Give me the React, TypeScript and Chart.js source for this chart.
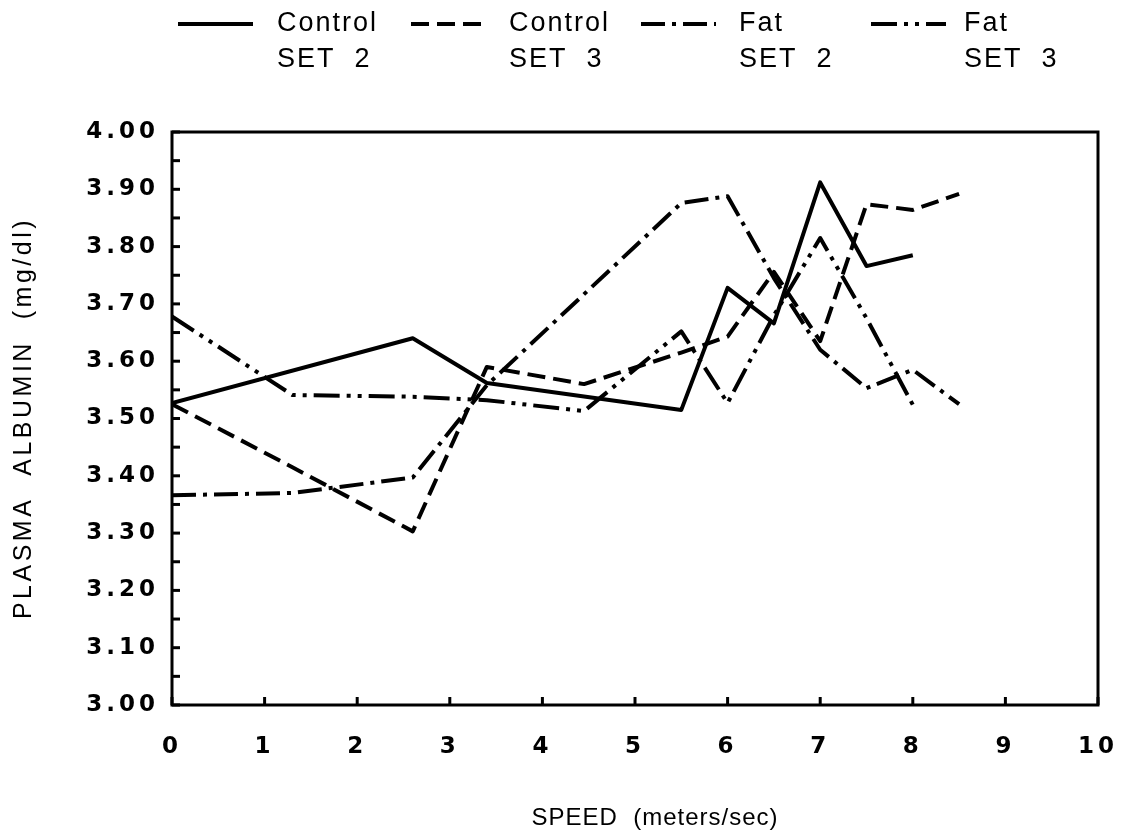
import React, { useEffect, useRef } from "react";
import { Chart, registerables } from "chart.js";

Chart.register(...registerables);

// ---------- data ----------
const seriesNames = ["Control SET 2", "Control SET 3", "Fat SET 2", "Fat SET 3"];
const legendLine1 = ["Control", "Control", "Fat", "Fat"];
const legendLine2 = ["SET  2", "SET  3", "SET  2", "SET  3"];

const control2Speed = [0, 2.6, 3.4, 5.5, 6.0, 6.5, 7.0, 7.5, 8.0];
const control2Albumin = [3.527, 3.64, 3.562, 3.515, 3.728, 3.666, 3.912, 3.766, 3.785];

const control3Speed = [0, 1.3, 2.6, 3.4, 4.45, 5.5, 6.0, 6.5, 7.0, 7.5, 8.0, 8.5];
const control3Albumin = [3.525, 3.415, 3.303, 3.59, 3.56, 3.615, 3.643, 3.756, 3.635, 3.874, 3.864, 3.892];

const fat2Speed = [0, 1.3, 2.6, 3.4, 4.45, 5.5, 6.0, 6.5, 7.0, 7.5, 8.0, 8.5];
const fat2Albumin = [3.366, 3.37, 3.397, 3.558, 3.717, 3.876, 3.888, 3.745, 3.62, 3.553, 3.585, 3.525];

const fat3Speed = [0, 1.3, 2.6, 3.4, 4.45, 5.5, 6.0, 6.5, 7.0, 7.5, 8.0];
const fat3Albumin = [3.678, 3.541, 3.538, 3.532, 3.513, 3.652, 3.527, 3.68, 3.815, 3.675, 3.524];

const xMin = 0;
const xMax = 10;
const xStep = 1;
const yMin = 3.0;
const yMax = 4.0;
const yMinorStep = 0.05;

const xAxisTitle = "SPEED  (meters/sec)";
const yAxisTitle = "PLASMA  ALBUMIN  (mg/dl)";

// ---------- styles ----------
const dashPatterns: number[][] = [[], [18, 8], [24, 7, 4, 7], [26, 7, 4, 7, 4, 7]];
const LINE_WIDTH = 4;
const TICK_SPACING = "4px";

const toPoints = (xs: number[], ys: number[]) => xs.map((x, i) => ({ x, y: ys[i] }));

const seriesData = [
  toPoints(control2Speed, control2Albumin),
  toPoints(control3Speed, control3Albumin),
  toPoints(fat2Speed, fat2Albumin),
  toPoints(fat3Speed, fat3Albumin),
];

const decorPlugin = {
  id: "decor",
  beforeUpdate(chart: any) {
    chart.ctx.letterSpacing = TICK_SPACING;
  },
  beforeDraw(chart: any) {
    const ctx = chart.ctx;
    ctx.save();
    ctx.fillStyle = "#ffffff";
    ctx.fillRect(0, 0, chart.width, chart.height);
    ctx.restore();
    ctx.letterSpacing = TICK_SPACING;
  },
  beforeDatasetsDraw(chart: any) {
    chart.ctx.letterSpacing = "0px";
  },
  afterDraw(chart: any) {
    const ctx = chart.ctx;
    const { left, right, top, bottom } = chart.chartArea;
    const xs = chart.scales.x;
    const ys = chart.scales.y;
    ctx.save();
    ctx.letterSpacing = "0px";
    ctx.strokeStyle = "#000";
    ctx.setLineDash([]);
    // frame
    ctx.lineWidth = 3;
    ctx.strokeRect(left, top, right - left, bottom - top);
    // inward ticks
    ys.ticks.forEach((t: any) => {
      const py = ys.getPixelForValue(t.value);
      ctx.beginPath();
      ctx.moveTo(left, py);
      ctx.lineTo(left + 8, py);
      ctx.stroke();
    });
    xs.ticks.forEach((t: any) => {
      const px = xs.getPixelForValue(t.value);
      ctx.beginPath();
      ctx.moveTo(px, bottom);
      ctx.lineTo(px, bottom - 8);
      ctx.stroke();
    });

    // axis titles
    ctx.fillStyle = "#000";
    ctx.font = "24px 'Liberation Sans'";
    ctx.letterSpacing = "1px";
    ctx.textAlign = "center";
    ctx.textBaseline = "middle";
    ctx.fillText(xAxisTitle, 655, 818);

    ctx.save();
    ctx.translate(24, 418);
    ctx.rotate(-Math.PI / 2);
    ctx.font = "25px 'Liberation Sans'";
    ctx.letterSpacing = "3.5px";
    ctx.fillText(yAxisTitle, 0, 0);
    ctx.restore();

    // legend
    const sampleX = [178, 411, 641, 871];
    const textX = [277, 509, 739, 964];
    const sampleW = 75;
    chart.data.datasets.forEach((ds: any, i: number) => {
      ctx.save();
      ctx.strokeStyle = "#000";
      ctx.lineWidth = LINE_WIDTH;
      ctx.lineCap = "butt";
      ctx.setLineDash(ds.borderDash || []);
      ctx.beginPath();
      ctx.moveTo(sampleX[i], 24);
      ctx.lineTo(sampleX[i] + sampleW, 24);
      ctx.stroke();
      ctx.restore();
      ctx.font = "27px 'Liberation Sans'";
      ctx.letterSpacing = "2px";
      ctx.textAlign = "left";
      ctx.textBaseline = "middle";
      ctx.fillText(legendLine1[i], textX[i], 24);
      ctx.fillText(legendLine2[i], textX[i], 60);
    });
    ctx.restore();
  },
};

export default function App() {
  const canvasRef = useRef<HTMLCanvasElement | null>(null);

  useEffect(() => {
    document.body.style.margin = "0";
    const canvas = canvasRef.current;
    if (!canvas) return;
    const chart = new Chart(canvas, {
      type: "line",
      data: {
        datasets: seriesData.map((d, i) => ({
          label: seriesNames[i],
          data: d,
          borderColor: "#000",
          backgroundColor: "#000",
          borderWidth: LINE_WIDTH,
          borderDash: dashPatterns[i],
          borderCapStyle: "butt",
          borderJoinStyle: "round",
          pointRadius: 0,
          tension: 0,
          fill: false,
        })),
      },
      options: {
        animation: false,
        responsive: false,
        devicePixelRatio: 1,
        layout: { padding: { top: 132, right: 31, left: 0, bottom: 0 } },
        plugins: {
          legend: { display: false },
          tooltip: { enabled: false },
          title: { display: false },
        },
        scales: {
          x: {
            type: "linear",
            min: xMin,
            max: xMax,
            grid: { display: false, drawTicks: false },
            border: { display: false },
            ticks: {
              stepSize: xStep,
              autoSkip: false,
              maxRotation: 0,
              padding: 28,
              color: "#000",
              font: { family: "'DejaVu Sans'", size: 23, weight: "bold" },
            },
            afterFit: (s: any) => {
              s.height = 127;
              s.paddingLeft = 0;
              s.paddingRight = 0;
            },
          },
          y: {
            type: "linear",
            min: yMin,
            max: yMax,
            grid: { display: false, drawTicks: false },
            border: { display: false },
            ticks: {
              stepSize: yMinorStep,
              autoSkip: false,
              padding: 13,
              color: "#000",
              font: { family: "'DejaVu Sans'", size: 23, weight: "bold" },
              callback: (v: any) => {
                const n = Number(v);
                return Math.round(n * 100) % 10 === 0 ? n.toFixed(2) : "";
              },
            },
            afterFit: (s: any) => {
              s.width = 172;
              s.paddingTop = 0;
              s.paddingBottom = 0;
            },
          },
        },
      },
      plugins: [decorPlugin],
    } as any);
    return () => chart.destroy();
  }, []);

  return (
    <div style={{ width: 1129, height: 832, background: "#fff" }}>
      <canvas ref={canvasRef} width={1129} height={832} />
    </div>
  );
}
